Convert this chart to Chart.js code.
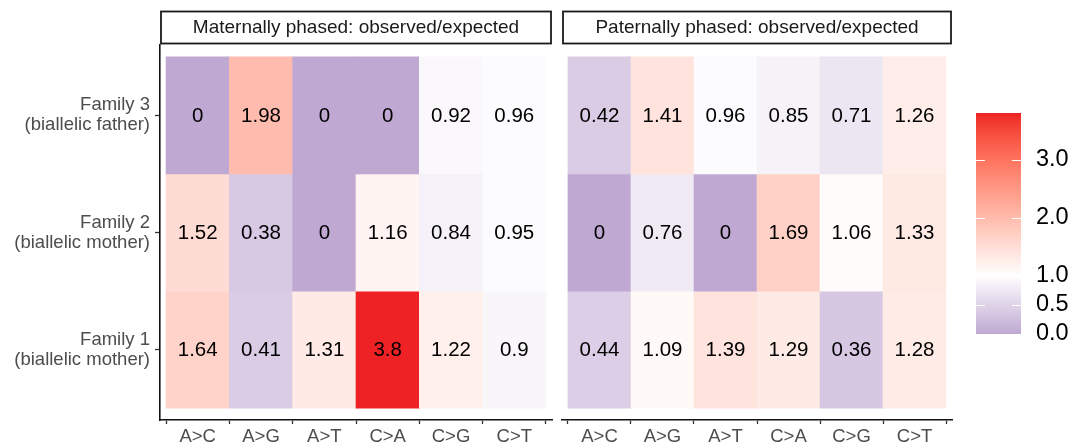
<!DOCTYPE html>
<html>
<head>
<meta charset="utf-8">
<script src="https://cdn.jsdelivr.net/npm/chart.js@4.4.1/dist/chart.umd.min.js"></script>
<style>
  html, body { margin: 0; padding: 0; background: #fff; }
  #wrap { position: relative; width: 1075px; height: 447px; }
  canvas { position: absolute; top: 0; }
</style>
</head>
<body>
<div id="wrap">
  <canvas id="maternalChart" width="556" height="447" style="left:0"></canvas>
  <canvas id="paternalChart" width="400" height="447" style="left:556px"></canvas>
  <canvas id="legendChart" width="119" height="447" style="left:956px"></canvas>
</div>
<script>
const mutationTypes = ['A>C', 'A>G', 'A>T', 'C>A', 'C>G', 'C>T'];
// rows listed bottom to top
const familyLabels = [
    ['Family 1', '(biallelic mother)'],
    ['Family 2', '(biallelic mother)'],
    ['Family 3', '(biallelic father)']
];
const maternalRatios = [
    [1.64, 0.41, 1.31, 3.8, 1.22, 0.9],
    [1.52, 0.38, 0, 1.16, 0.84, 0.95],
    [0, 1.98, 0, 0, 0.92, 0.96]
];
const paternalRatios = [
    [0.44, 1.09, 1.39, 1.29, 0.36, 1.28],
    [0, 0.76, 0, 1.69, 1.06, 1.33],
    [0.42, 1.41, 0.96, 0.85, 0.71, 1.26]
];
const legendTicks = [0, 0.5, 1, 2, 3];
const fillMin = 0, fillMid = 1, fillMax = 3.8;

const FONT = '"Liberation Sans", Arial, Helvetica, sans-serif';
const lowColour = [191, 169, 210];
const midColour = [255, 255, 255];
const highColour = [238, 34, 36];

function toLab(rgb) {
    const lin = c => { c /= 255; return c <= 0.04045 ? c / 12.92 : Math.pow((c + 0.055) / 1.055, 2.4); };
    const R = lin(rgb[0]), G = lin(rgb[1]), B = lin(rgb[2]);
    const X = (0.4124 * R + 0.3576 * G + 0.1805 * B) / 0.95047;
    const Y = 0.2126 * R + 0.7152 * G + 0.0722 * B;
    const Z = (0.0193 * R + 0.1192 * G + 0.9505 * B) / 1.08883;
    const f = t => t > 0.008856 ? Math.cbrt(t) : 7.787 * t + 16 / 116;
    return [116 * f(Y) - 16, 500 * (f(X) - f(Y)), 200 * (f(Y) - f(Z))];
}

function fromLab(lab) {
    const fy = (lab[0] + 16) / 116, fx = fy + lab[1] / 500, fz = fy - lab[2] / 200;
    const inv = t => t * t * t > 0.008856 ? t * t * t : (t - 16 / 116) / 7.787;
    const X = inv(fx) * 0.95047, Y = inv(fy), Z = inv(fz) * 1.08883;
    const R = 3.2406 * X - 1.5372 * Y - 0.4986 * Z;
    const G = -0.9689 * X + 1.8758 * Y + 0.0415 * Z;
    const B = 0.0557 * X - 0.2040 * Y + 1.0570 * Z;
    const gam = c => {
        c = c <= 0.0031308 ? 12.92 * c : 1.055 * Math.pow(c, 1 / 2.4) - 0.055;
        return Math.round(Math.min(1, Math.max(0, c)) * 255);
    };
    return `rgb(${gam(R)},${gam(G)},${gam(B)})`;
}

const labLow = toLab(lowColour), labMid = toLab(midColour), labHigh = toLab(highColour);

function fillColour(v) {
    let t, end;
    if (v < fillMid) {
        t = (fillMid - v) / (fillMid - fillMin);
        end = labLow;
    } else {
        t = (v - fillMid) / (fillMax - fillMid);
        end = labHigh;
    }
    t = Math.min(1, Math.max(0, t));
    return fromLab(labMid.map((m, i) => m + (end[i] - m) * t));
}

function heatmapPoints(ratios) {
    const pts = [];
    ratios.forEach((row, r) => {
        row.forEach((v, c) => {
            pts.push({ x: c, y: [r + 0.5, r + 1.5], v: v });
        });
    });
    return pts;
}

const stripTitle = {
    id: 'stripTitle',
    afterDraw(chart, args, opts) {
        const { ctx, chartArea } = chart;
        ctx.save();
        ctx.strokeStyle = '#1a1a1a';
        ctx.lineWidth = 1.8;
        ctx.strokeRect(chartArea.left + 1, 11.5, chartArea.right - chartArea.left - 2, 32);
        ctx.fillStyle = '#1a1a1a';
        ctx.font = `19px ${FONT}`;
        ctx.textAlign = 'center';
        ctx.textBaseline = 'middle';
        ctx.fillText(opts.text, (chartArea.left + chartArea.right) / 2, 28);
        ctx.restore();
    }
};

const cellValues = {
    id: 'cellValues',
    afterDatasetsDraw(chart) {
        const ctx = chart.ctx;
        const meta = chart.getDatasetMeta(0);
        const data = chart.data.datasets[0].data;
        ctx.save();
        ctx.fillStyle = '#000';
        ctx.font = `20.5px ${FONT}`;
        ctx.textAlign = 'center';
        ctx.textBaseline = 'middle';
        meta.data.forEach((bar, i) => {
            const p = bar.getProps(['x', 'y', 'base'], true);
            ctx.fillText(String(data[i].v), p.x, (p.y + p.base) / 2 + 1);
        });
        ctx.restore();
    }
};

function createHeatmap(canvasId, ratios, title, showFamilies) {
    const pts = heatmapPoints(ratios);
    return new Chart(document.getElementById(canvasId), {
        type: 'bar',
        data: {
            datasets: [{
                data: pts,
                backgroundColor: pts.map(p => fillColour(p.v)),
                borderWidth: 0,
                barPercentage: 1,
                categoryPercentage: 1
            }]
        },
        options: {
            responsive: false,
            animation: false,
            layout: {
                padding: { top: 45, right: 4, bottom: 0, left: showFamilies ? 0 : 6 }
            },
            plugins: {
                legend: { display: false },
                tooltip: { enabled: false },
                stripTitle: { text: title }
            },
            scales: {
                x: {
                    type: 'linear',
                    offset: false,
                    min: -0.595,
                    max: 5.595,
                    afterBuildTicks: s => { s.ticks = mutationTypes.map((m, i) => ({ value: i })); },
                    afterFit: s => { s.height = 27; },
                    ticks: {
                        callback: v => mutationTypes[v],
                        color: '#4d4d4d',
                        font: { size: 18.5, family: FONT },
                        padding: 2,
                        maxRotation: 0,
                        autoSkip: false
                    },
                    grid: { display: true, drawOnChartArea: false, drawTicks: true, tickLength: 4, tickColor: '#333', tickWidth: 1.3 },
                    border: { display: true, color: '#111', width: 1.6 }
                },
                y: {
                    type: 'linear',
                    display: showFamilies,
                    min: 0.4,
                    max: 3.6,
                    afterBuildTicks: s => { s.ticks = familyLabels.map((f, i) => ({ value: i + 1 })); },
                    afterFit: s => { s.width = showFamilies ? 160 : 0; },
                    ticks: {
                        callback: v => familyLabels[v - 1],
                        color: '#4d4d4d',
                        font: { size: 18.5, family: FONT, lineHeight: 1.08 },
                        padding: 5
                    },
                    grid: { display: true, drawOnChartArea: false, drawTicks: true, tickLength: 5, tickColor: '#333', tickWidth: 1.3 },
                    border: { display: true, color: '#111', width: 1.6 }
                }
            }
        },
        plugins: [stripTitle, cellValues]
    });
}

const colourbarTicks = {
    id: 'colourbarTicks',
    afterDatasetsDraw(chart) {
        const { ctx, chartArea } = chart;
        const y = chart.scales.y;
        ctx.save();
        ctx.strokeStyle = '#fff';
        ctx.lineWidth = 1;
        legendTicks.forEach(v => {
            const py = Math.round(y.getPixelForValue(v)) + 0.5;
            ctx.beginPath();
            ctx.moveTo(chartArea.left, py);
            ctx.lineTo(chartArea.left + 9, py);
            ctx.moveTo(chartArea.right - 9, py);
            ctx.lineTo(chartArea.right, py);
            ctx.stroke();
        });
        ctx.restore();
    }
};

function createLegend() {
    return new Chart(document.getElementById('legendChart'), {
        type: 'bar',
        data: {
            labels: ['ratio'],
            datasets: [{
                data: [[fillMin, fillMax]],
                backgroundColor: c => {
                    const chart = c.chart;
                    if (!chart.chartArea) return null;
                    const y = chart.scales.y;
                    const g = chart.ctx.createLinearGradient(0, y.getPixelForValue(fillMin), 0, y.getPixelForValue(fillMax));
                    const steps = 38;
                    for (let i = 0; i <= steps; i++) {
                        g.addColorStop(i / steps, fillColour(fillMin + (fillMax - fillMin) * i / steps));
                    }
                    return g;
                },
                borderWidth: 0,
                barPercentage: 1,
                categoryPercentage: 1
            }]
        },
        options: {
            responsive: false,
            animation: false,
            layout: { padding: { left: 20, top: 113, bottom: 113, right: 0 } },
            plugins: {
                legend: { display: false },
                tooltip: { enabled: false }
            },
            scales: {
                x: { display: false },
                y: {
                    position: 'right',
                    min: fillMin,
                    max: fillMax,
                    afterBuildTicks: s => { s.ticks = legendTicks.map(v => ({ value: v })); },
                    afterFit: s => { s.width = 54; },
                    ticks: {
                        callback: v => v.toFixed(1),
                        color: '#000',
                        font: { size: 23.5, family: FONT },
                        padding: 15
                    },
                    grid: { display: false, drawTicks: false },
                    border: { display: false }
                }
            }
        },
        plugins: [colourbarTicks]
    });
}

window.addEventListener('load', () => {
    createHeatmap('maternalChart', maternalRatios, 'Maternally phased: observed/expected', true);
    createHeatmap('paternalChart', paternalRatios, 'Paternally phased: observed/expected', false);
    createLegend();
});
</script>
</body>
</html>
